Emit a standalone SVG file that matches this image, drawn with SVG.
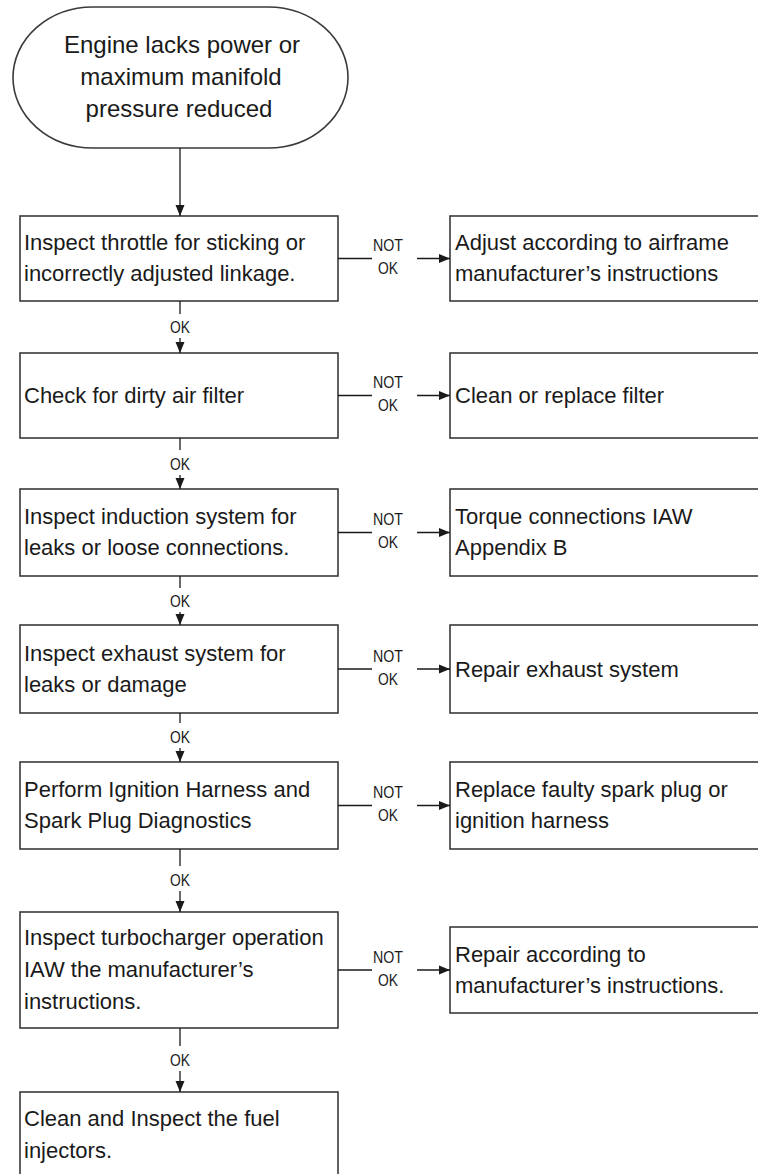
<svg xmlns="http://www.w3.org/2000/svg" width="758" height="1174" viewBox="0 0 758 1174">
<style>
.bx{fill:#fff;stroke:#3a3a3a;stroke-width:1.6}
.t{font-family:"Liberation Sans",Arial,sans-serif;font-size:22px;fill:#1a1a1a}
.tt{font-family:"Liberation Sans",Arial,sans-serif;font-size:24px;fill:#1a1a1a;text-anchor:middle}
.lb{font-family:"Liberation Sans",Arial,sans-serif;font-size:17px;fill:#1a1a1a;text-anchor:middle}
.ln{fill:none;stroke:#1a1a1a;stroke-width:1.3}
</style>
<defs>
<marker id="ah" markerUnits="userSpaceOnUse" markerWidth="11" markerHeight="10" refX="11" refY="5" orient="auto">
<path d="M0,0.5 L11,5 L0,9.5 z" fill="#1a1a1a"/>
</marker>
</defs>
<rect width="758" height="1174" fill="#fff"/>

<g id="start">
<rect class="bx" x="13" y="7" width="335" height="141" rx="80" ry="70.5"/>
<text class="tt" x="182" y="53">Engine lacks power or</text>
<text class="tt" x="181" y="85">maximum manifold</text>
<text class="tt" x="179" y="117">pressure reduced</text>
</g>

<g id="step1">
<rect class="bx" x="20" y="216" width="318" height="85"/>
<text class="t" x="24" y="250">Inspect throttle for sticking or</text>
<text class="t" x="24" y="281">incorrectly adjusted linkage.</text>
</g>
<g id="fix1">
<rect class="bx" x="450" y="216" width="330" height="85"/>
<text class="t" x="455" y="250">Adjust according to airframe</text>
<text class="t" x="455" y="281">manufacturer’s instructions</text>
</g>

<g id="step2">
<rect class="bx" x="20" y="353" width="318" height="85"/>
<text class="t" x="24" y="403">Check for dirty air filter</text>
</g>
<g id="fix2">
<rect class="bx" x="450" y="353" width="330" height="85"/>
<text class="t" x="455" y="403">Clean or replace filter</text>
</g>

<g id="step3">
<rect class="bx" x="20" y="489" width="318" height="87"/>
<text class="t" x="24" y="524">Inspect induction system for</text>
<text class="t" x="24" y="555">leaks or loose connections.</text>
</g>
<g id="fix3">
<rect class="bx" x="450" y="489" width="330" height="87"/>
<text class="t" x="455" y="524">Torque connections IAW</text>
<text class="t" x="455" y="555">Appendix B</text>
</g>

<g id="step4">
<rect class="bx" x="20" y="625" width="318" height="88"/>
<text class="t" x="24" y="660.5">Inspect exhaust system for</text>
<text class="t" x="24" y="691.5">leaks or damage</text>
</g>
<g id="fix4">
<rect class="bx" x="450" y="625" width="330" height="88"/>
<text class="t" x="455" y="676.5">Repair exhaust system</text>
</g>

<g id="step5">
<rect class="bx" x="20" y="762" width="318" height="87"/>
<text class="t" x="24" y="797">Perform Ignition Harness and</text>
<text class="t" x="24" y="828">Spark Plug Diagnostics</text>
</g>
<g id="fix5">
<rect class="bx" x="450" y="762" width="330" height="87"/>
<text class="t" x="455" y="797">Replace faulty spark plug or</text>
<text class="t" x="455" y="828">ignition harness</text>
</g>

<g id="step6">
<rect class="bx" x="20" y="912" width="318" height="116"/>
<text class="t" x="24" y="945">Inspect turbocharger operation</text>
<text class="t" x="24" y="977">IAW the manufacturer’s</text>
<text class="t" x="24" y="1009">instructions.</text>
</g>
<g id="fix6">
<rect class="bx" x="450" y="927" width="330" height="86"/>
<text class="t" x="455" y="961.5">Repair according to</text>
<text class="t" x="455" y="992.5">manufacturer’s instructions.</text>
</g>

<g id="step7">
<rect class="bx" x="20" y="1092" width="318" height="100"/>
<text class="t" x="24" y="1126">Clean and Inspect the fuel</text>
<text class="t" x="24" y="1158">injectors.</text>
</g>

<g id="connectors">
<line class="ln" x1="180" y1="148" x2="180" y2="216" marker-end="url(#ah)"/>

<line class="ln" x1="180" y1="301" x2="180" y2="314"/>
<text class="lb" x="180" y="333" textLength="20" lengthAdjust="spacingAndGlyphs">OK</text>
<line class="ln" x1="180" y1="338" x2="180" y2="353" marker-end="url(#ah)"/>

<line class="ln" x1="180" y1="438" x2="180" y2="450"/>
<text class="lb" x="180" y="470" textLength="20" lengthAdjust="spacingAndGlyphs">OK</text>
<line class="ln" x1="180" y1="475" x2="180" y2="489" marker-end="url(#ah)"/>

<line class="ln" x1="180" y1="576" x2="180" y2="588"/>
<text class="lb" x="180" y="607" textLength="20" lengthAdjust="spacingAndGlyphs">OK</text>
<line class="ln" x1="180" y1="612" x2="180" y2="625" marker-end="url(#ah)"/>

<line class="ln" x1="180" y1="713" x2="180" y2="723"/>
<text class="lb" x="180" y="743" textLength="20" lengthAdjust="spacingAndGlyphs">OK</text>
<line class="ln" x1="180" y1="748" x2="180" y2="762" marker-end="url(#ah)"/>

<line class="ln" x1="180" y1="849" x2="180" y2="866"/>
<text class="lb" x="180" y="886" textLength="20" lengthAdjust="spacingAndGlyphs">OK</text>
<line class="ln" x1="180" y1="891" x2="180" y2="912" marker-end="url(#ah)"/>

<line class="ln" x1="180" y1="1028" x2="180" y2="1046"/>
<text class="lb" x="180" y="1066" textLength="20" lengthAdjust="spacingAndGlyphs">OK</text>
<line class="ln" x1="180" y1="1071" x2="180" y2="1092" marker-end="url(#ah)"/>

<line class="ln" x1="338" y1="258.5" x2="372" y2="258.5"/>
<text class="lb" x="388" y="251" textLength="30" lengthAdjust="spacingAndGlyphs">NOT</text>
<text class="lb" x="388" y="274" textLength="20" lengthAdjust="spacingAndGlyphs">OK</text>
<line class="ln" x1="417" y1="258.5" x2="450" y2="258.5" marker-end="url(#ah)"/>

<line class="ln" x1="338" y1="395.5" x2="372" y2="395.5"/>
<text class="lb" x="388" y="388" textLength="30" lengthAdjust="spacingAndGlyphs">NOT</text>
<text class="lb" x="388" y="411" textLength="20" lengthAdjust="spacingAndGlyphs">OK</text>
<line class="ln" x1="417" y1="395.5" x2="450" y2="395.5" marker-end="url(#ah)"/>

<line class="ln" x1="338" y1="532.5" x2="372" y2="532.5"/>
<text class="lb" x="388" y="525" textLength="30" lengthAdjust="spacingAndGlyphs">NOT</text>
<text class="lb" x="388" y="548" textLength="20" lengthAdjust="spacingAndGlyphs">OK</text>
<line class="ln" x1="417" y1="532.5" x2="450" y2="532.5" marker-end="url(#ah)"/>

<line class="ln" x1="338" y1="669" x2="372" y2="669"/>
<text class="lb" x="388" y="661.5" textLength="30" lengthAdjust="spacingAndGlyphs">NOT</text>
<text class="lb" x="388" y="684.5" textLength="20" lengthAdjust="spacingAndGlyphs">OK</text>
<line class="ln" x1="417" y1="669" x2="450" y2="669" marker-end="url(#ah)"/>

<line class="ln" x1="338" y1="805.5" x2="372" y2="805.5"/>
<text class="lb" x="388" y="798" textLength="30" lengthAdjust="spacingAndGlyphs">NOT</text>
<text class="lb" x="388" y="821" textLength="20" lengthAdjust="spacingAndGlyphs">OK</text>
<line class="ln" x1="417" y1="805.5" x2="450" y2="805.5" marker-end="url(#ah)"/>

<line class="ln" x1="338" y1="970" x2="372" y2="970"/>
<text class="lb" x="388" y="962.5" textLength="30" lengthAdjust="spacingAndGlyphs">NOT</text>
<text class="lb" x="388" y="985.5" textLength="20" lengthAdjust="spacingAndGlyphs">OK</text>
<line class="ln" x1="417" y1="970" x2="450" y2="970" marker-end="url(#ah)"/>
</g>
</svg>
